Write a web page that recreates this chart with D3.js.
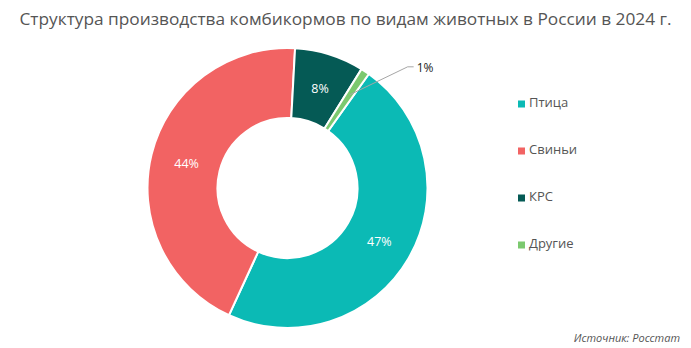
<!DOCTYPE html>
<html><head><meta charset="utf-8">
<script src="https://cdn.jsdelivr.net/npm/d3@7"></script>
<style>body{margin:0;background:#fff}svg{display:block}</style>
</head><body>
<script>
const categories = ["Птица", "Свиньи", "КРС", "Другие"];
const values = [47, 44, 8, 1];
const labels = ["47%", "44%", "8%", "1%"];
const colors = ["#0bbab5", "#f26363", "#055a55", "#7cc96f"];
const title = "Структура производства  комбикормов  по видам  животных  в России  в 2024  г.";
const source = "Источник: Росстат";

const W = 691, H = 348;
const svg = d3.select("body").append("svg").attr("width", W).attr("height", H);
const font = "'Open Sans', 'Noto Sans', sans-serif";

svg.append("text").attr("x", 345.5).attr("y", 25).attr("text-anchor", "middle")
  .attr("font-family", font).attr("font-size", 16).attr("fill", "#555")
  .attr("textLength", 652).attr("lengthAdjust", "spacingAndGlyphs")
  .text(title);

const cx = 287.5, cy = 188, rO = 140, rI = 70;
const start = 35.5 * Math.PI / 180;
const pie = d3.pie().sort(null).startAngle(start).endAngle(start + 2 * Math.PI);
const arcs = pie(values);
const arc = d3.arc().innerRadius(rI).outerRadius(rO);
const g = svg.append("g").attr("transform", `translate(${cx},${cy})`);
g.selectAll("path").data(arcs).join("path")
  .attr("d", arc).attr("fill", (d, i) => colors[i])
  .attr("stroke", "#fff").attr("stroke-width", 2);

arcs.forEach((d, i) => {
  if (values[i] >= 3) {
    const [x, y] = arc.centroid(d);
    g.append("text").attr("x", x + 1).attr("y", y + 2).attr("text-anchor", "middle")
      .attr("dominant-baseline", "middle")
      .attr("font-family", font).attr("font-size", 12.5).attr("fill", "#fff")
      .text(labels[i]);
  } else {
    const a = (d.startAngle + d.endAngle) / 2;
    const r0 = 112;
    const x0 = Math.sin(a) * r0, y0 = -Math.cos(a) * r0;
    const x1 = x0 + 58, y1 = y0 - 28;
    g.append("polyline")
      .attr("points", `${x0},${y0} ${x1},${y1} ${x1 + 6},${y1}`)
      .attr("fill", "none").attr("stroke", "#a6a6a6").attr("stroke-width", 1);
    g.append("text").attr("x", x1 + 9).attr("y", y1 + 1.5)
      .attr("dominant-baseline", "middle")
      .attr("font-family", font).attr("font-size", 12).attr("fill", "#222")
      .text(labels[i]);
  }
});

const leg = svg.append("g");
categories.forEach((c, i) => {
  const y = 104 + i * 47;
  leg.append("rect").attr("x", 518).attr("y", y - 3.5).attr("width", 7).attr("height", 7)
    .attr("fill", colors[i]);
  leg.append("text").attr("x", 529).attr("y", y).attr("dominant-baseline", "middle")
    .attr("font-family", font).attr("font-size", 13).attr("fill", "#555").text(c);
});

svg.append("text").attr("x", 680).attr("y", 342).attr("text-anchor", "end")
  .attr("font-family", font).attr("font-size", 11).attr("font-style", "italic")
  .attr("fill", "#555").text(source);
</script>
</body></html>
